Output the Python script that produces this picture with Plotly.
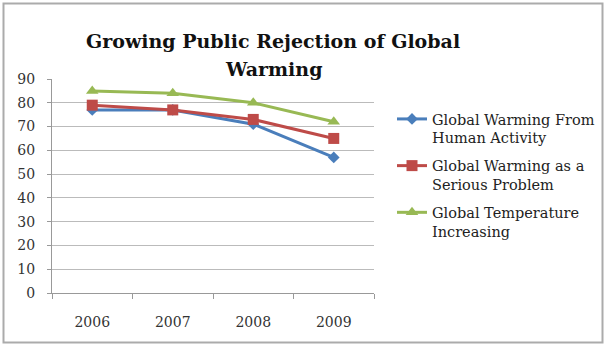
import plotly.graph_objects as go

years = ["2006", "2007", "2008", "2009"]
human_activity = [77, 77, 71, 57]
serious_problem = [79, 77, 73, 65]
temp_increasing = [85, 84, 80, 72]

names = ["Global Warming From<br>Human Activity",
         "Global Warming as a<br>Serious Problem",
         "Global Temperature<br>Increasing"]
title_lines = ["Growing Public Rejection of Global", "Warming"]
colors = ["#4A7EBB", "#BE4B48", "#98B954"]
symbols = ["diamond", "square", "triangle-up"]
sizes = [9, 11, 11]

W, H = 606, 347
L, R, T, B = 52, W - 374, 79, H - 293
fig = go.Figure()
for i, (vals, nm, c, s, sz) in enumerate(zip([human_activity, serious_problem, temp_increasing], names, colors, symbols, sizes)):
    fig.add_trace(go.Scatter(x=years, y=vals, name=nm, mode="lines+markers",
                             legendgroup=f"g{i}",
                             line=dict(color=c, width=3),
                             marker=dict(symbol=s, size=sz, color=c)))

def px2x(px): return (px - L) / (W - L - R)
def py2y(py): return (H - B - py) / (H - T - B)

fig.add_shape(type="rect", xref="paper", yref="paper",
              x0=px2x(3.5), x1=px2x(602.5), y0=py2y(342.5), y1=py2y(3.5),
              line=dict(color="#ABABAB", width=2), layer="below")

for txt, yc in zip(title_lines, [41, 69]):
    fig.add_annotation(text=f"<b>{txt}</b>", xref="paper", yref="paper",
                       x=px2x(273), y=py2y(yc), xanchor="center", yanchor="middle",
                       showarrow=False,
                       font=dict(family="DejaVu Serif", size=19, color="#111111"))

fig.update_layout(
    width=W, height=H,
    margin=dict(l=L, r=R, t=T, b=B, autoexpand=False),
    paper_bgcolor="white", plot_bgcolor="white",
    font=dict(family="DejaVu Serif", size=14, color="#333333"),
    xaxis=dict(type="category", range=[-0.5, 3.5], showgrid=False,
               showline=True, linecolor="#999999", linewidth=1,
               ticks="outside", tickson="boundaries", ticklen=5, tickcolor="#999999",
               ticklabelstandoff=16,
               tickfont=dict(family="DejaVu Serif", size=14, color="#333333")),
    yaxis=dict(range=[0, 90], dtick=10, showgrid=True, gridcolor="#BBBBBB", gridwidth=1,
               showline=True, linecolor="#999999", linewidth=1,
               ticks="outside", ticklen=4, tickcolor="#999999",
               ticklabelstandoff=9,
               tickfont=dict(family="DejaVu Serif", size=14, color="#333333"),
               zeroline=False),
    legend=dict(x=px2x(392), y=py2y(103), xanchor="left", yanchor="top",
                valign="top", tracegroupgap=6,
                font=dict(family="DejaVu Serif", size=14.5, color="#222222"),
                bgcolor="rgba(0,0,0,0)"),
    showlegend=True,
)
fig.write_html("out.html")
